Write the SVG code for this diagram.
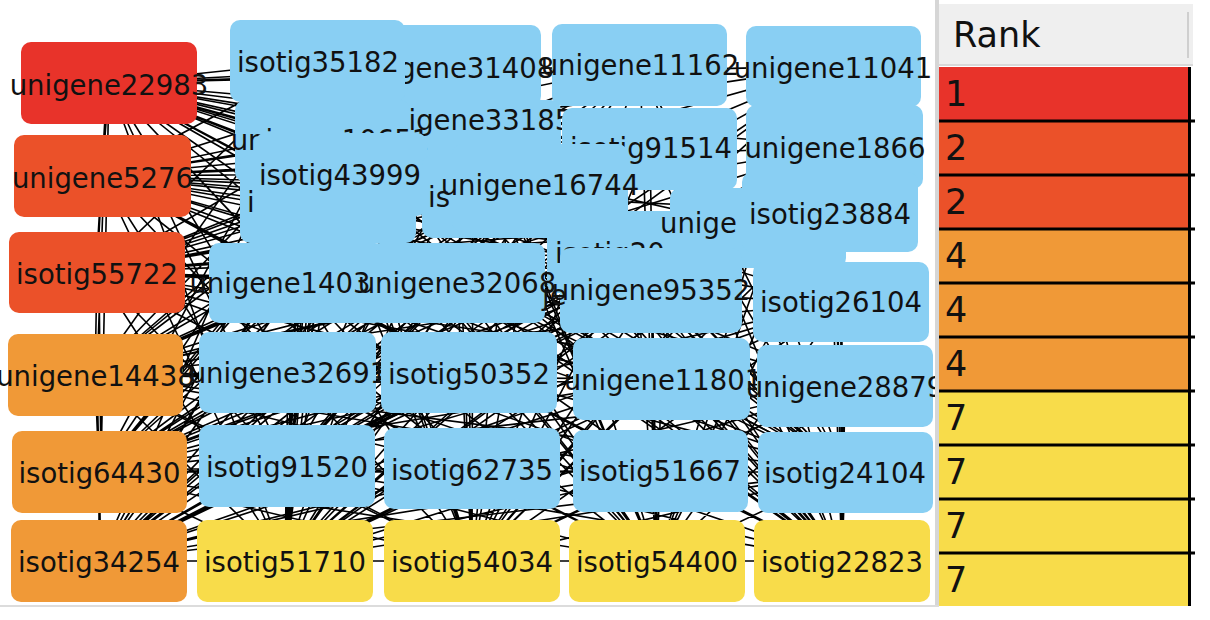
<svg xmlns="http://www.w3.org/2000/svg" width="1210" height="620" viewBox="0 0 1210 620">
<style>
.r1{fill:#E8332A}.r2{fill:#EB5129}.r4{fill:#F09937}.r7{fill:#F8DC4A}.bl{fill:#89CFF3}
text{font-family:"DejaVu Sans","Liberation Sans",sans-serif;fill:#111}
.l{font-size:27.5px;text-anchor:middle}
.f{font-size:27.5px;text-anchor:start}
.t{font-size:35px}
.e{fill:none;stroke:#000;stroke-width:1.6}
.row{stroke:#000;stroke-width:3}
</style>
<defs>
<clipPath id="panel"><rect x="0" y="0" width="935" height="605"/></clipPath>
</defs>
<rect width="1210" height="620" fill="#fff"/>
<g clip-path="url(#panel)">
<g id="edges" class="e">
<path d="M109 83 318 61 102 176 453 65 109 83 640 65 102 176 833 66 109 83 473 141 102 176 650 149 109 83 835 147 102 176 322 141 109 83 341 174 102 176 328 199 109 83 510 196 102 176 540 188 109 83 758 228 102 176 830 212 109 83 635 252 102 176 297 283 109 83 457 283 102 176 651 290 109 83 841 302 102 176 288 372 109 83 469 372 102 176 661 379 109 83 845 386 102 176 287 466 109 83 472 468 102 176 660 471 109 83 845 472 102 176"/>
<path d="M97 272 318 61 95 375 453 65 97 272 640 65 95 375 833 66 97 272 473 141 95 375 650 149 97 272 835 147 95 375 322 141 97 272 341 174 95 375 328 199 97 272 510 196 95 375 540 188 97 272 758 228 95 375 830 212 97 272 635 252 95 375 297 283 97 272 457 283 95 375 651 290 97 272 841 302 95 375 288 372 97 272 469 372 95 375 661 379 97 272 845 386 95 375 287 466 97 272 472 468 95 375 660 471 97 272 845 472 95 375"/>
<path d="M99 472 318 61 99 561 453 65 99 472 640 65 99 561 833 66 99 472 473 141 99 561 650 149 99 472 835 147 99 561 322 141 99 472 341 174 99 561 328 199 99 472 510 196 99 561 540 188 99 472 758 228 99 561 830 212 99 472 635 252 99 561 297 283 99 472 457 283 99 561 651 290 99 472 841 302 99 561 288 372 99 472 469 372 99 561 661 379 99 472 845 386 99 561 287 466 99 472 472 468 99 561 660 471 99 472 845 472 99 561"/>
<path d="M285 561 318 61 472 561 453 65 285 561 640 65 472 561 833 66 285 561 473 141 472 561 650 149 285 561 835 147 472 561 322 141 285 561 341 174 472 561 328 199 285 561 510 196 472 561 540 188 285 561 758 228 472 561 830 212 285 561 635 252 472 561 297 283 285 561 457 283 472 561 651 290 285 561 841 302 472 561 288 372 285 561 469 372 472 561 661 379 285 561 845 386 472 561 287 466 285 561 472 468 472 561 660 471 285 561 845 472 472 561"/>
<path d="M657 561 318 61 842 561 453 65 657 561 640 65 842 561 833 66 657 561 473 141 842 561 650 149 657 561 835 147 842 561 322 141 657 561 341 174 842 561 328 199 657 561 510 196 842 561 540 188 657 561 758 228 842 561 830 212 657 561 635 252 842 561 297 283 657 561 457 283 842 561 651 290 657 561 841 302 842 561 288 372 657 561 469 372 842 561 661 379 657 561 845 386 842 561 287 466 657 561 472 468 842 561 660 471 657 561 845 472 842 561"/>
<path d="M287 466 318 61 845 472 453 65 287 466 640 65 845 472 833 66 287 466 473 141 845 472 650 149 287 466 835 147 845 472 322 141 287 466 341 174 845 472 328 199 287 466 510 196 845 472 540 188 287 466 758 228 845 472 830 212 287 466 635 252 845 472 297 283 287 466 457 283 845 472 651 290 287 466 841 302 845 472"/>
<path d="M109 83 102 176 97 272 95 375 99 472 99 561 285 561 472 561 657 561 842 561M107 83 96 272M104 176 97 375M99 272 101 472M97 375 101 561M109 83 99 561M95 375 285 561M99 472 285 561M99 472 472 561M97 272 285 561M102 176 285 561M109 83 285 561M95 375 472 561M99 472 657 561"/>
</g>
<g id="n-unigene22983"><rect class="r1" x="21" y="42" width="176" height="82" rx="10"/><text class="l" x="109" y="95">unigene22983</text></g>
<g id="n-unigene5276"><rect class="r2" x="14" y="135" width="177" height="82" rx="10"/><text class="l" x="102.5" y="188">unigene5276</text></g>
<g id="n-isotig55722"><rect class="r2" x="9" y="232" width="176" height="81" rx="10"/><text class="l" x="97" y="284">isotig55722</text></g>
<g id="n-unigene14438"><rect class="r4" x="8" y="334" width="175" height="82" rx="10"/><text class="l" x="95.5" y="386">unigene14438</text></g>
<g id="n-isotig64430"><rect class="r4" x="12" y="431" width="175" height="82" rx="10"/><text class="l" x="99.5" y="483">isotig64430</text></g>
<g id="n-isotig34254"><rect class="r4" x="11" y="520" width="176" height="82" rx="10"/><text class="l" x="99" y="572">isotig34254</text></g>
<g id="n-isotig51710"><rect class="r7" x="197" y="520" width="176" height="82" rx="10"/><text class="l" x="285" y="572">isotig51710</text></g>
<g id="n-isotig54034"><rect class="r7" x="384" y="520" width="176" height="82" rx="10"/><text class="l" x="472" y="572">isotig54034</text></g>
<g id="n-isotig54400"><rect class="r7" x="569" y="520" width="176" height="82" rx="10"/><text class="l" x="657" y="572">isotig54400</text></g>
<g id="n-isotig22823"><rect class="r7" x="754" y="520" width="176" height="82" rx="10"/><text class="l" x="842" y="572">isotig22823</text></g>
<g id="n-unigene32691"><rect class="bl" x="199" y="332" width="177" height="81" rx="10"/><text class="l" x="288" y="383">unigene32691</text></g>
<g id="n-isotig50352"><rect class="bl" x="381" y="332" width="176" height="81" rx="10"/><text class="l" x="469" y="384">isotig50352</text></g>
<g id="n-unigene11801"><rect class="bl" x="573" y="338" width="177" height="82" rx="10"/><text class="l" x="663" y="390">unigene11801</text></g>
<g id="n-unigene28879"><rect class="bl" x="757" y="345" width="176" height="82" rx="10"/><text class="l" x="845" y="397">unigene28879</text></g>
<g id="n-isotig91520"><rect class="bl" x="199" y="425" width="176" height="82" rx="10"/><text class="l" x="287" y="477">isotig91520</text></g>
<g id="n-isotig62735"><rect class="bl" x="384" y="428" width="176" height="81" rx="10"/><text class="l" x="472" y="480">isotig62735</text></g>
<g id="n-isotig51667"><rect class="bl" x="573" y="430" width="175" height="82" rx="10"/><text class="l" x="660" y="481">isotig51667</text></g>
<g id="n-isotig24104"><rect class="bl" x="758" y="432" width="175" height="81" rx="10"/><text class="l" x="845" y="483">isotig24104</text></g>
<g id="n-unigene31408"><rect class="bl" x="366" y="25" width="175" height="81" rx="10"/><text class="l" x="455" y="78">unigene31408</text></g>
<g id="n-isotig35182"><rect class="bl" x="230" y="20" width="175" height="82" rx="10"/><text class="l" x="318" y="72">isotig35182</text></g>
<g id="n-unigene11162"><rect class="bl" x="552" y="24" width="175" height="82" rx="10"/><text class="l" x="640" y="75">unigene11162</text></g>
<g id="n-unigene11041"><rect class="bl" x="746" y="26" width="175" height="81" rx="10"/><text class="l" x="833" y="78">unigene11041</text></g>
<g id="n-unigene33185"><rect class="bl" x="385" y="100" width="176" height="82" rx="10"/><text class="l" x="473" y="130">unigene33185</text></g>
<g id="n-unigene10651"><rect class="bl" x="235" y="100" width="175" height="82" rx="10"/><text class="l" x="330" y="150">unigene10651</text></g>
<g id="n-isotig91514"><rect class="bl" x="562" y="108" width="175" height="82" rx="10"/><text class="l" x="651" y="158">isotig91514</text></g>
<g id="n-unigene1866"><rect class="bl" x="746" y="105" width="177" height="84" rx="10"/><text class="l" x="835" y="158">unigene1866</text></g>
<g id="n-hidden-i"><rect class="bl" x="240" y="155" width="176" height="88" rx="10"/><text class="f" x="247" y="212">i</text></g>
<g id="n-isotig43999"><rect class="bl" x="255" y="133" width="172" height="83" rx="10"/><text class="l" x="340" y="185">isotig43999</text></g>
<g id="n-hidden-is"><rect class="bl" x="422" y="155" width="176" height="83" rx="10"/><text class="f" x="428" y="207">is</text></g>
<g id="n-unigene16744"><rect class="bl" x="452" y="144" width="176" height="88" rx="10"/><text class="l" x="540" y="195">unigene16744</text></g>
<g id="n-isotig20"><rect class="bl" x="547" y="211" width="176" height="82" rx="10"/><text class="f" x="555" y="263">isotig20</text></g>
<g id="n-unige"><rect class="bl" x="670" y="188" width="176" height="80" rx="10"/><text class="f" x="660" y="233">unige</text></g>
<g id="n-isotig23884"><rect class="bl" x="742" y="172" width="176" height="80" rx="10"/><text class="l" x="830" y="224">isotig23884</text></g>
<g id="n-unigene1403"><rect class="bl" x="209" y="243" width="176" height="80" rx="10"/><text class="l" x="280" y="293">unigene1403</text></g>
<g id="n-unigene32068"><rect class="bl" x="370" y="243" width="175" height="80" rx="10"/><text class="l" x="457" y="293">unigene32068</text></g>
<g id="n-unigene95352"><rect class="bl" x="560" y="248" width="182" height="85" rx="10"/><text class="l" x="651" y="300">unigene95352</text></g>
<g id="n-je"><text class="f" x="542" y="305">je</text></g>
<g id="n-isotig26104"><rect class="bl" x="753" y="262" width="176" height="80" rx="10"/><text class="l" x="841" y="312">isotig26104</text></g>
</g>
<g id="panel-frame">
<rect x="935" y="0" width="4" height="607" fill="#d6d6d6"/>
<rect x="0" y="605" width="939" height="2" fill="#dcdcdc"/>
</g>
<g id="rank-table">
<rect x="939" y="4" width="254" height="61" fill="#efefef"/>
<rect x="939" y="64" width="254" height="2" fill="#d9d9d9"/>
<rect x="1187" y="12" width="2" height="46" fill="#cfcfcf"/>
<text class="t" x="953" y="47">Rank</text>
<rect class="r1" x="939" y="67" width="250" height="54"/>
<rect class="r2" x="939" y="121" width="250" height="54"/>
<rect class="r2" x="939" y="175" width="250" height="54"/>
<rect class="r4" x="939" y="229" width="250" height="54"/>
<rect class="r4" x="939" y="283" width="250" height="54"/>
<rect class="r4" x="939" y="337" width="250" height="54"/>
<rect class="r7" x="939" y="391" width="250" height="54"/>
<rect class="r7" x="939" y="445" width="250" height="54"/>
<rect class="r7" x="939" y="499" width="250" height="54"/>
<rect class="r7" x="939" y="553" width="250" height="53"/>
<g class="row">
<line x1="939" y1="121" x2="1195" y2="121"/>
<line x1="939" y1="175" x2="1195" y2="175"/>
<line x1="939" y1="229" x2="1195" y2="229"/>
<line x1="939" y1="283" x2="1195" y2="283"/>
<line x1="939" y1="337" x2="1195" y2="337"/>
<line x1="939" y1="391" x2="1195" y2="391"/>
<line x1="939" y1="445" x2="1195" y2="445"/>
<line x1="939" y1="499" x2="1195" y2="499"/>
<line x1="939" y1="553" x2="1195" y2="553"/>
<line x1="1189.5" y1="67" x2="1189.5" y2="606"/>
</g>
<text class="t" x="945" y="106">1</text>
<text class="t" x="945" y="160">2</text>
<text class="t" x="945" y="214">2</text>
<text class="t" x="945" y="268">4</text>
<text class="t" x="945" y="322">4</text>
<text class="t" x="945" y="376">4</text>
<text class="t" x="945" y="430">7</text>
<text class="t" x="945" y="484">7</text>
<text class="t" x="945" y="538">7</text>
<text class="t" x="945" y="592">7</text>
</g>
</svg>
